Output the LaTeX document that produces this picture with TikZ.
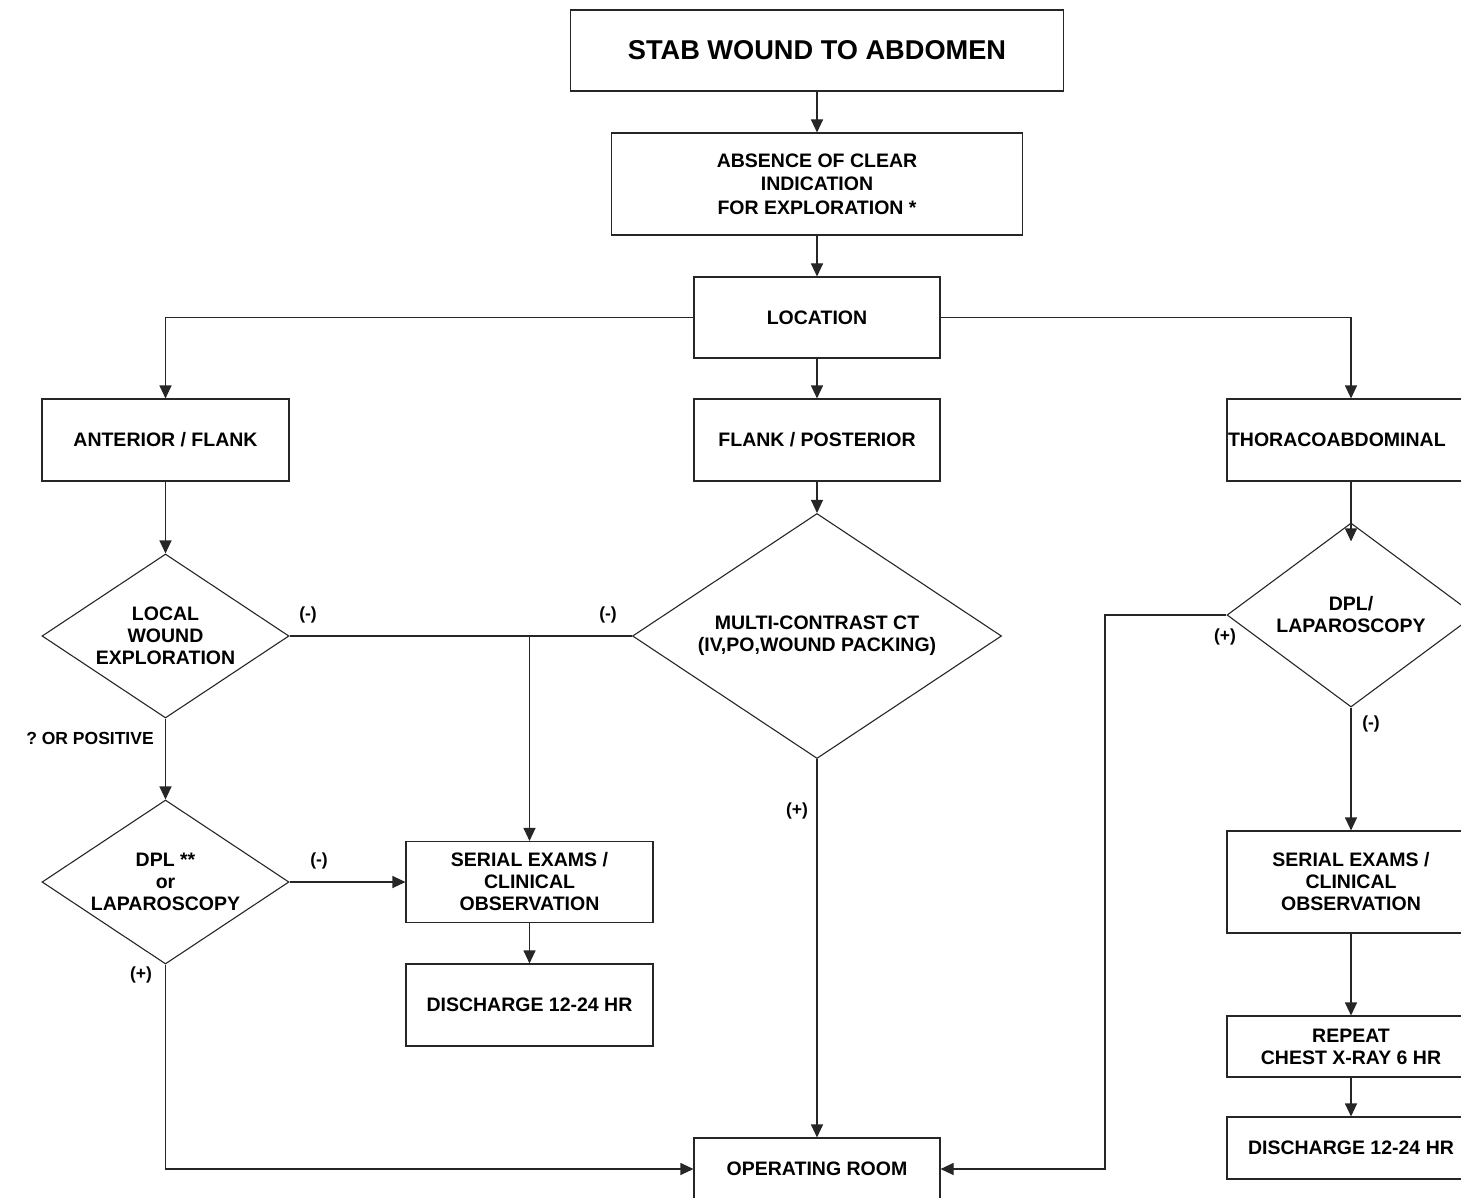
\documentclass[tikz,border=0pt]{standalone}
\usepackage{fontspec}
\setmainfont{Liberation Sans}
\usetikzlibrary{shapes.geometric,arrows.meta}
\frenchspacing
\begin{document}
\begin{tikzpicture}[x=1pt,y=-1pt,
  line width=1.1pt, draw=black!85,
  body/.style={font=\fontsize{19.5}{22}\selectfont\bfseries},
  lbl/.style={font=\fontsize{17.5}{20}\selectfont\bfseries, inner sep=0pt},
  box/.style={draw=black!85, rectangle, inner sep=0pt, align=center, body},
  dia/.style={draw=black!85, diamond, inner sep=0pt, align=center, body},
  arr/.style={-{Triangle[length=13pt,width=12pt]}},
]
\useasboundingbox (0,0) rectangle (1461,1198);

% boxes
\node[box, minimum width=493pt, minimum height=81pt,
      font=\fontsize{27.2}{30}\selectfont\bfseries] (title) at (817,50.5) {STAB WOUND TO ABDOMEN};
\node[box, minimum width=411pt, minimum height=102pt,
      font=\fontsize{19.5}{23.5}\selectfont\bfseries] (absence) at (817,184)
      {ABSENCE OF CLEAR\\INDICATION\\FOR EXPLORATION *};
\node[box, minimum width=246pt, minimum height=81pt] (location) at (817,317.5) {LOCATION};
\node[box, minimum width=247pt, minimum height=82pt] (ant) at (165.5,440) {ANTERIOR / FLANK};
\node[box, minimum width=246pt, minimum height=82pt] (flpost) at (817,440) {FLANK / POSTERIOR};
\node[box, minimum width=248pt, minimum height=82pt,
      label={[body, anchor=west, inner sep=0pt, xshift=1pt]west:THORACOABDOMINAL}] (thor) at (1351,440) {};

% decisions
\node[dia, minimum width=247pt, minimum height=164pt, aspect=1.506] (local) at (165.5,636)
      {LOCAL\\WOUND\\EXPLORATION};
\node[dia, minimum width=369pt, minimum height=245pt, aspect=1.506] (multi) at (817,636)
      {MULTI-CONTRAST CT\\(IV,PO,WOUND PACKING)};
\node[dia, minimum width=248pt, minimum height=184pt, aspect=1.348] (dpltwo) at (1351,615)
      {DPL/\\LAPAROSCOPY};
\node[dia, minimum width=247pt, minimum height=164pt, aspect=1.506] (dplone) at (165.5,882)
      {DPL **\\or\\LAPAROSCOPY};

% outcome boxes
\node[box, minimum width=247pt, minimum height=81pt] (serone) at (529.5,882)
      {SERIAL EXAMS /\\CLINICAL\\OBSERVATION};
\node[box, minimum width=247pt, minimum height=82pt] (disone) at (529.5,1005) {DISCHARGE 12-24 HR};
\node[box, minimum width=246pt, minimum height=62pt] (oproom) at (817,1169) {OPERATING ROOM};
\node[box, minimum width=248pt, minimum height=102pt] (sertwo) at (1351,882)
      {SERIAL EXAMS /\\CLINICAL\\OBSERVATION};
\node[box, minimum width=248pt, minimum height=61pt] (repeat) at (1351,1046.5)
      {REPEAT\\CHEST X-RAY 6 HR};
\node[box, minimum width=248pt, minimum height=62pt] (distwo) at (1351,1148) {DISCHARGE 12-24 HR};

% helper points
\coordinate (junc) at (529.5,636);
\coordinate (rkink) at (1105,1169);

% connectors
\draw[arr] (title) -- (absence);
\draw[arr] (absence) -- (location);
\draw[arr] (location.west) -| (ant.north);
\draw[arr] (location.east) -| (thor.north);
\draw[arr] (location) -- (flpost);
\draw[arr] (ant) -- (local.north);
\draw[arr] (flpost) -- (multi.north);
\draw (local.east) -- (multi.west);
\draw[arr] (junc) -- (serone.north);
\draw[arr] (local.south) -- (dplone.north);
\draw[arr] (dplone.east) -- (serone.west);
\draw[arr] (serone) -- (disone);
\draw[arr] (dplone.south) |- (oproom.west);
\draw[arr] (multi.south) -- (oproom.north);
\draw[arr, shorten >=-19pt] (thor.south) -- (dpltwo.north);
\draw[arr] (dpltwo.west) -| (rkink) -- (oproom.east);
\draw[arr] (dpltwo.south) -- (sertwo.north);
\draw[arr] (sertwo) -- (repeat);
\draw[arr] (repeat) -- (distwo);

% branch labels
\node[lbl] (lbla) at (308,615) {(-)};
\node[lbl] (lblb) at (608,615) {(-)};
\node[lbl] (lblc) at (90,738) {? OR POSITIVE};
\node[lbl] (lbld) at (797,811) {(+)};
\node[lbl] (lble) at (319,861) {(-)};
\node[lbl] (lblf) at (141,975) {(+)};
\node[lbl] (lblg) at (1225,637) {(+)};
\node[lbl] (lblh) at (1371,724) {(-)};
\end{tikzpicture}
\end{document}
